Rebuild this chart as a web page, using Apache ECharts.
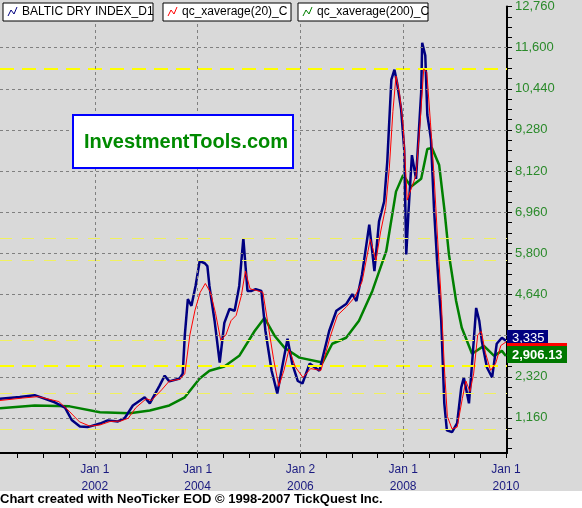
<!DOCTYPE html>
<html><head><meta charset="utf-8">
<script src="https://cdn.jsdelivr.net/npm/echarts@6/dist/echarts.min.js"></script>
<style>html,body{margin:0;padding:0;background:#fff}#c{width:582px;height:508px}</style>
</head><body><div id="c"></div>
<script>
const bdi = [[2000.155,1700],[2000.54,1750],[2000.83,1800],[2001.22,1600],[2001.42,1450],[2001.55,1100],[2001.71,920],[2001.86,900],[2002.10,1000],[2002.25,1090],[2002.45,1060],[2002.58,1150],[2002.74,1510],[2002.97,1740],[2003.07,1570],[2003.26,2070],[2003.36,2350],[2003.45,2190],[2003.65,2270],[2003.71,2410],[2003.75,3470],[2003.81,4510],[2003.88,4320],[2003.96,4880],[2004.04,5580],[2004.14,5520],[2004.19,5440],[2004.23,4880],[2004.33,3900],[2004.43,2720],[2004.52,3840],[2004.62,4230],[2004.72,4180],[2004.81,4880],[2004.89,6220],[2004.97,4740],[2005.05,4740],[2005.13,4790],[2005.24,4740],[2005.32,3610],[2005.44,2490],[2005.55,1850],[2005.65,2630],[2005.75,3390],[2005.84,2700],[2005.95,2200],[2006.04,2130],[2006.18,2690],[2006.37,2490],[2006.56,3610],[2006.70,4180],[2006.89,4370],[2007.01,4650],[2007.09,4455],[2007.20,5210],[2007.34,6610],[2007.44,5300],[2007.53,6700],[2007.63,7260],[2007.69,8380],[2007.77,10700],[2007.83,10980],[2007.88,10620],[2007.96,9860],[2008.02,8740],[2008.06,5770],[2008.10,6890],[2008.17,8570],[2008.25,7900],[2008.35,10340],[2008.37,11740],[2008.43,11380],[2008.47,9700],[2008.54,9020],[2008.60,7060],[2008.66,5580],[2008.74,3900],[2008.80,1570],[2008.85,810],[2008.95,760],[2009.05,1010],[2009.13,2020],[2009.18,2300],[2009.28,1570],[2009.34,2690],[2009.42,4260],[2009.48,3900],[2009.53,3330],[2009.63,2580],[2009.73,2300],[2009.82,3250],[2009.92,3420],[2010.0,3335]];
const ma20 = [[2000.155,1650],[2000.6,1720],[2000.9,1760],[2001.3,1620],[2001.5,1350],[2001.7,1050],[2001.9,930],[2002.1,960],[2002.3,1060],[2002.5,1070],[2002.65,1150],[2002.8,1450],[2003.0,1700],[2003.1,1650],[2003.3,1950],[2003.45,2200],[2003.65,2250],[2003.75,2400],[2003.85,3500],[2003.95,4200],[2004.05,4700],[2004.15,4950],[2004.25,4700],[2004.35,4100],[2004.45,3350],[2004.55,3500],[2004.65,3900],[2004.75,4050],[2004.85,4600],[2004.93,5300],[2005.02,4800],[2005.15,4750],[2005.27,4700],[2005.37,3800],[2005.48,2800],[2005.58,2050],[2005.68,2500],[2005.78,3100],[2005.9,2600],[2006.05,2300],[2006.2,2550],[2006.4,2500],[2006.58,3450],[2006.72,4050],[2006.9,4300],[2007.05,4550],[2007.2,5000],[2007.36,6200],[2007.47,5600],[2007.56,6400],[2007.66,7100],[2007.73,8200],[2007.8,9800],[2007.86,10800],[2007.93,10300],[2008.0,9400],[2008.08,7300],[2008.15,7600],[2008.25,8000],[2008.33,9500],[2008.4,11000],[2008.46,10900],[2008.53,9500],[2008.6,8000],[2008.67,6200],[2008.74,4500],[2008.8,2600],[2008.86,1200],[2008.95,850],[2009.05,900],[2009.15,1700],[2009.22,2200],[2009.3,1900],[2009.37,2400],[2009.45,3500],[2009.52,3600],[2009.6,3000],[2009.7,2500],[2009.8,2700],[2009.9,3200],[2010.0,3300]];
const ma200 = [[2000.155,1430],[2000.83,1510],[2001.51,1485],[2002.10,1320],[2002.68,1290],[2003.07,1370],[2003.45,1510],[2003.75,1740],[2004.04,2270],[2004.23,2490],[2004.52,2610],[2004.81,2910],[2005.11,3610],[2005.30,3980],[2005.50,3470],[2005.69,3140],[2005.98,2860],[2006.43,2720],[2006.62,3250],[2006.89,3420],[2007.14,3900],[2007.40,4740],[2007.67,5860],[2007.86,7540],[2008.00,8010],[2008.15,7680],[2008.35,7900],[2008.47,8740],[2008.56,8770],[2008.70,8290],[2008.80,7060],[2008.89,5770],[2009.03,4455],[2009.14,3700],[2009.34,2970],[2009.57,3190],[2009.77,2910],[2009.92,3050],[2010.0,2906.13]];
const yLabels = [1160,2320,3480,4640,5800,6960,8120,9280,10440,11600,12760];
const xLabelYears = [2002,2004,2006,2008,2010];
const xLabelText = ['Jan 1\n2002','Jan 1\n2004','Jan 2\n2006','Jan 1\n2008','Jan 1\n2010'];
const levelsMajor = [11000,2630];
const levelsMinor = [6220,5604,3362,1849,840];
const lastBdi = '3,335', lastMa200 = '2,906.13';

const yTicks=[]; for(let v=290; v<=12760; v+=290) yTicks.push(v);
const xTicks=[]; for(let v=2000.5; v<=2010; v+=0.5) xTicks.push(v);
const ch = echarts.init(document.getElementById('c'));
const L = (d,c,w,z)=>({type:'line',data:d,showSymbol:false,symbol:'none',lineStyle:{color:c,width:w},z:z,silent:true});
const mk = [];
yLabels.slice(0,-1).forEach(v=>mk.push({yAxis:v,lineStyle:{color:'#808080',type:[3,3],width:1}}));
levelsMinor.forEach(v=>mk.push({yAxis:v,lineStyle:{color:'#f0f060',type:[12,10],width:1}}));
levelsMajor.forEach(v=>mk.push({yAxis:v,lineStyle:{color:'#ffff00',type:[14,8],width:2}}));
xLabelYears.slice(0,-1).forEach(v=>mk.push({xAxis:v,lineStyle:{color:'#808080',type:[3,3],width:1}}));
function legendBox(x,w,color,text){
  return [{type:'rect',z:100,shape:{x:x,y:3,width:w,height:18},style:{fill:'#fff',stroke:'#000',lineWidth:1}},
  {type:'polyline',z:101,shape:{points:[[x+5,16],[x+8,10],[x+11,14],[x+14,7]]},style:{stroke:color,lineWidth:1,fill:null}},
  {type:'text',z:101,x:x+19,y:6,style:{text:text,font:'12px Arial',fill:'#000'}}];
}
ch.setOption({
  animation:false,
  backgroundColor:'#fff',
  grid:{left:0,right:75,top:5,bottom:55},
  xAxis:{type:'value',min:2000.155,max:2010.02,
    axisLine:{lineStyle:{color:'#000',width:2}},
    axisTick:{show:true,customValues:xTicks,length:5,lineStyle:{color:'#000'}},
    axisLabel:{customValues:xLabelYears,color:'#1a1a80',fontSize:12,fontFamily:'Arial',lineHeight:17,margin:8,
      formatter:v=>{const i=xLabelYears.indexOf(Math.round(v));return i>=0?xLabelText[i]:'';}},
    splitLine:{show:false}},
  yAxis:{type:'value',position:'right',min:170,max:12760,
    axisLine:{show:true,lineStyle:{color:'#000',width:2}},
    axisTick:{show:true,customValues:yTicks,length:5,lineStyle:{color:'#000'}},
    axisLabel:{customValues:yLabels,color:'#2a8a2a',fontSize:13,fontFamily:'Arial',margin:8,
      formatter:v=>v.toLocaleString('en-US')},
    splitLine:{show:false}},
  graphic:[
    {type:'rect',z:-10,shape:{x:0,y:0,width:582,height:491},style:{fill:'#d9d9d9'}},
    ...legendBox(3,150,'#000080','BALTIC DRY INDEX_D1'),
    ...legendBox(163,128,'#ff0000','qc_xaverage(20)_C'),
    ...legendBox(298,130,'#008000','qc_xaverage(200)_C'),
    {type:'rect',shape:{x:73,y:115,width:220,height:53},style:{fill:'#fff',stroke:'#0000ff',lineWidth:2},z:50},
    {type:'text',x:186,y:142,z:51,style:{text:'InvestmentTools.com',font:'bold 20px Arial',fill:'#008a00',align:'center',verticalAlign:'middle'}},
    {type:'rect',shape:{x:507,y:330,width:41,height:16},style:{fill:'#000080'},z:50},
    {type:'text',x:512,y:338,z:51,style:{text:lastBdi,font:'13px Arial',fill:'#fff',verticalAlign:'middle'}},
    {type:'rect',shape:{x:507,y:343,width:60,height:3},style:{fill:'#ff0000'},z:52},
    {type:'rect',shape:{x:507,y:346,width:60,height:17},style:{fill:'#007800'},z:50},
    {type:'text',x:512,y:355,z:51,style:{text:lastMa200,font:'bold 13px Arial',fill:'#fff',verticalAlign:'middle'}},
    {type:'text',x:0,y:493,style:{text:'Chart created with NeoTicker EOD © 1998-2007 TickQuest Inc.',font:'bold 13px Arial',fill:'#000'}}
  ],
  series:[
    Object.assign(L([],'#000',0,1),{markLine:{symbol:'none',silent:true,label:{show:false},data:mk,animation:false}}),
    L(ma200,'#008000',2.5,3),
    L(bdi,'#000080',2.5,4),
    L(ma20,'#ff0000',1,5)
  ]
});
</script></body></html>
